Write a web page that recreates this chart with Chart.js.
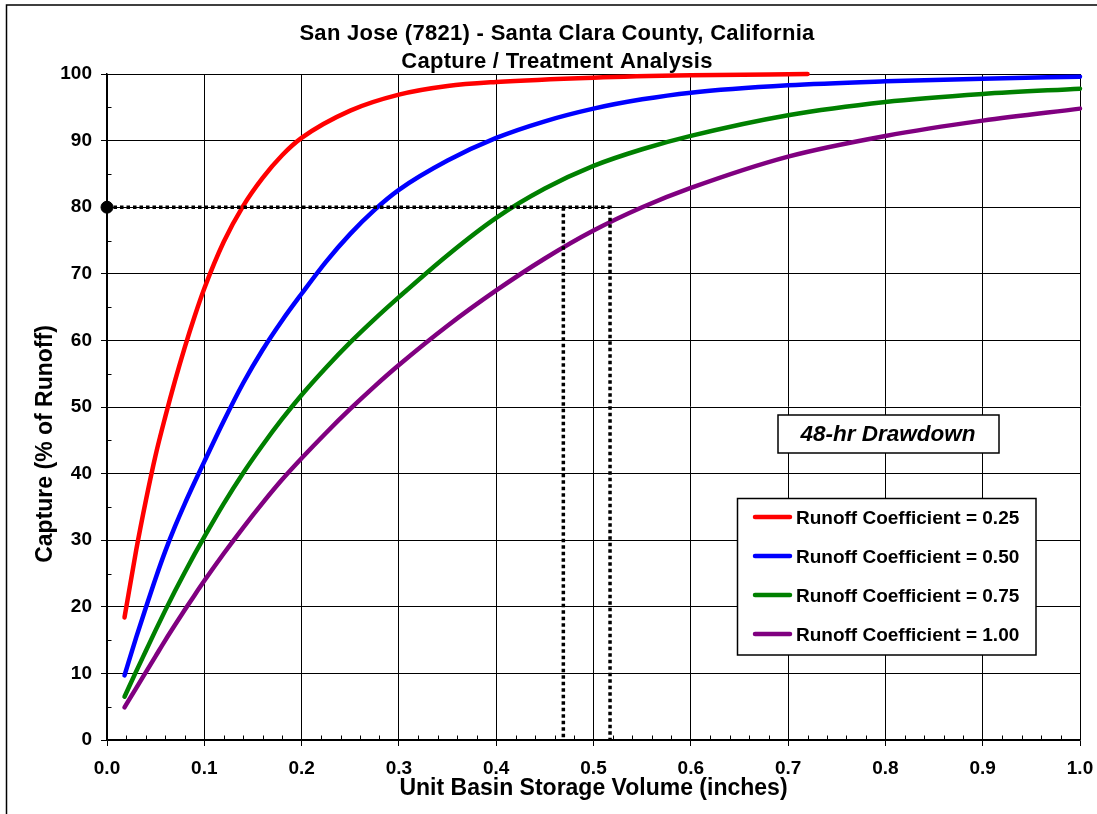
<!DOCTYPE html>
<html>
<head>
<meta charset="utf-8">
<script src="https://cdn.jsdelivr.net/npm/chart.js@4.4.0/dist/chart.umd.min.js"></script>
<style>
  html, body { margin: 0; padding: 0; background: #fff; }
</style>
</head>
<body>
<canvas id="grafico" width="1097" height="814"></canvas>
<script>
// valores
var storage = [0.018, 0.03, 0.04, 0.05, 0.06, 0.07, 0.08, 0.09, 0.10, 0.12, 0.14, 0.16, 0.18, 0.20, 0.225, 0.25, 0.275, 0.30, 0.35, 0.40, 0.45, 0.50, 0.55, 0.60, 0.70, 0.80, 0.90, 1.00];
var storageC025 = [0.018, 0.03, 0.04, 0.05, 0.06, 0.07, 0.08, 0.09, 0.10, 0.12, 0.14, 0.16, 0.18, 0.20, 0.25, 0.30, 0.35, 0.40, 0.50, 0.60, 0.72];
var captureC025 = [18.4, 28.5, 36.0, 42.8, 48.6, 54.0, 59.0, 63.6, 67.8, 74.8, 80.2, 84.4, 87.8, 90.4, 94.5, 96.9, 98.2, 98.8, 99.45, 99.8, 100];
var captureC050 = [9.7, 15.4, 19.9, 24.3, 28.4, 32.1, 35.5, 38.7, 41.8, 47.9, 53.6, 58.6, 63.0, 67.0, 71.8, 76.0, 79.6, 82.6, 87.0, 90.4, 92.9, 94.8, 96.2, 97.2, 98.3, 98.9, 99.3, 99.6];
var captureC075 = [6.5, 10.3, 13.4, 16.5, 19.5, 22.4, 25.2, 27.9, 30.5, 35.5, 40.1, 44.3, 48.2, 51.8, 55.9, 59.7, 63.2, 66.5, 72.8, 78.4, 82.8, 86.2, 88.7, 90.7, 93.8, 95.8, 97.0, 97.8];
var captureC100 = [4.9, 7.8, 10.2, 12.6, 15.0, 17.3, 19.55, 21.75, 23.9, 28.0, 31.9, 35.6, 39.1, 42.3, 46.1, 49.7, 53.1, 56.3, 62.2, 67.5, 72.3, 76.5, 80.0, 82.9, 87.6, 90.7, 93.0, 94.8];

var seriesLabels = ['Runoff Coefficient = 0.25', 'Runoff Coefficient = 0.50', 'Runoff Coefficient = 0.75', 'Runoff Coefficient = 1.00'];
var seriesColors = ['#ff0000', '#0000ff', '#008000', '#800080'];

// linea punteada del 80 %
var targetCapture = 80;
var targetStorage = [0.469, 0.517];

var titulo = ['San Jose (7821) - Santa Clara County, California', 'Capture / Treatment Analysis'];
var xTitle = 'Unit Basin Storage Volume (inches)';
var yTitle = 'Capture (% of Runoff)';
var boxText = '48-hr Drawdown';

var fam = "'Liberation Sans', Arial, Helvetica, sans-serif";

function puntos(xs, ys) {
    var out = [];
    for (var i = 0; i < xs.length; i++) {
        out.push({ x: xs[i], y: ys[i] });
    }
    return out;
}

function curva(idx, xs, ys) {
    return {
        label: seriesLabels[idx],
        data: puntos(xs, ys),
        showLine: true,
        borderColor: seriesColors[idx],
        backgroundColor: seriesColors[idx],
        borderWidth: 4.5,
        pointRadius: 0,
        cubicInterpolationMode: 'monotone',
        borderCapStyle: 'round',
        borderJoinStyle: 'round',
        clip: false
    };
}

var punteada = {
    borderColor: '#000',
    borderWidth: 3.5,
    borderDash: [3.5, 3],
    pointRadius: 0,
    showLine: true,
    tension: 0,
    clip: false
};

var datasets = [
    Object.assign({ label: 'ref1', data: [{ x: 0, y: targetCapture }, { x: targetStorage[1], y: targetCapture }, { x: targetStorage[1], y: 0 }] }, punteada),
    Object.assign({ label: 'ref2', data: [{ x: targetStorage[0], y: targetCapture }, { x: targetStorage[0], y: 0 }] }, punteada),
    { label: 'dot', data: [{ x: 0, y: targetCapture }], showLine: false, pointRadius: 6, pointBackgroundColor: '#000', pointBorderColor: '#000', clip: false },
    curva(0, storageC025, captureC025),
    curva(1, storage, captureC050),
    curva(2, storage, captureC075),
    curva(3, storage, captureC100)
];

// titulos, marcas menores, cuadros
var decor = {
    id: 'decor',
    beforeDraw: function (chart) {
        var ctx = chart.ctx;
        ctx.save();
        ctx.fillStyle = '#fff';
        ctx.fillRect(0, 0, chart.width, chart.height);
        ctx.restore();
    },
    afterDraw: function (chart) {
        var ctx = chart.ctx, a = chart.chartArea, xs = chart.scales.x, ys = chart.scales.y;
        ctx.save();
        ctx.strokeStyle = '#000';
        ctx.lineWidth = 1.5;
        ctx.strokeRect(6.5, 5, 1300, 1000);

        ctx.fillStyle = '#000';
        ctx.textAlign = 'center';
        ctx.textBaseline = 'alphabetic';
        ctx.font = 'bold 22px ' + fam;
        ctx.letterSpacing = '0.3px';
        ctx.fillText(titulo[0], 557, 39.5);
        ctx.fillText(titulo[1], 557, 67.5);
        ctx.letterSpacing = '0px';

        ctx.font = 'bold 23px ' + fam;
        ctx.fillText(xTitle, (a.left + a.right) / 2, 795);
        ctx.save();
        ctx.translate(51.5, 444);
        ctx.rotate(-Math.PI / 2);
        ctx.fillText(yTitle, 0, 0);
        ctx.restore();

        // marcas menores
        ctx.lineWidth = 1;
        ctx.beginPath();
        for (var k = 1; k < 50; k++) {
            if (k % 5 === 0) continue;
            var px = Math.round(xs.getPixelForValue(k * 0.02)) + 0.5;
            ctx.moveTo(px, a.bottom);
            ctx.lineTo(px, a.bottom - 4.5);
        }
        for (var w = 5; w < 100; w += 10) {
            var py = Math.round(ys.getPixelForValue(w)) + 0.5;
            ctx.moveTo(a.left, py);
            ctx.lineTo(a.left + 4.5, py);
        }
        ctx.stroke();

        // cuadro 48-hr
        ctx.fillStyle = '#fff';
        ctx.fillRect(778, 415, 221, 38);
        ctx.lineWidth = 1.5;
        ctx.strokeRect(778, 415, 221, 38);
        ctx.fillStyle = '#000';
        ctx.font = 'italic bold 22.5px ' + fam;
        ctx.textAlign = 'center';
        ctx.textBaseline = 'middle';
        ctx.fillText(boxText, 888, 435);

        // leyenda
        ctx.fillStyle = '#fff';
        ctx.fillRect(737.5, 498.5, 298.5, 156.5);
        ctx.strokeRect(737.5, 498.5, 298.5, 156.5);
        ctx.font = 'bold 19px ' + fam;
        ctx.textAlign = 'left';
        for (var i = 0; i < seriesLabels.length; i++) {
            var ry = 517 + i * 39;
            ctx.strokeStyle = seriesColors[i];
            ctx.lineWidth = 4.5;
            ctx.lineCap = 'round';
            ctx.beginPath();
            ctx.moveTo(755, ry);
            ctx.lineTo(790, ry);
            ctx.stroke();
            ctx.fillStyle = '#000';
            ctx.fillText(seriesLabels[i], 796, ry + 2);
        }
        ctx.restore();
    }
};

var config = {
    type: 'scatter',
    data: { datasets: datasets },
    options: {
        responsive: false,
        animation: false,
        layout: { padding: { left: 0, top: 74, right: 17, bottom: 0 } },
        plugins: {
            legend: { display: false },
            title: { display: false },
            tooltip: { enabled: false }
        },
        scales: {
            x: {
                type: 'linear',
                min: 0,
                max: 1,
                afterFit: function (s) {
                    s.height = 74;
                    s.paddingLeft = 0;
                    s.paddingRight = 0;
                },
                ticks: {
                    stepSize: 0.1,
                    autoSkip: false,
                    maxRotation: 0,
                    padding: 11,
                    color: '#000',
                    font: { family: fam, size: 19, weight: 'bold' },
                    callback: function (v) { return Number(v).toFixed(1); }
                },
                grid: { color: '#000', lineWidth: 1, tickLength: 6, tickColor: '#000' },
                border: { color: '#000', width: 1.5 }
            },
            y: {
                min: 0,
                max: 100,
                afterFit: function (s) {
                    s.width = 107;
                    s.paddingTop = 0;
                    s.paddingBottom = 0;
                },
                ticks: {
                    stepSize: 10,
                    padding: 9,
                    color: '#000',
                    font: { family: fam, size: 19, weight: 'bold' }
                },
                grid: { color: '#000', lineWidth: 1, tickLength: 6, tickColor: '#000' },
                border: { color: '#000', width: 1.5 }
            }
        }
    },
    plugins: [decor]
};

var myChart = new Chart(document.getElementById('grafico'), config);
</script>
</body>
</html>
